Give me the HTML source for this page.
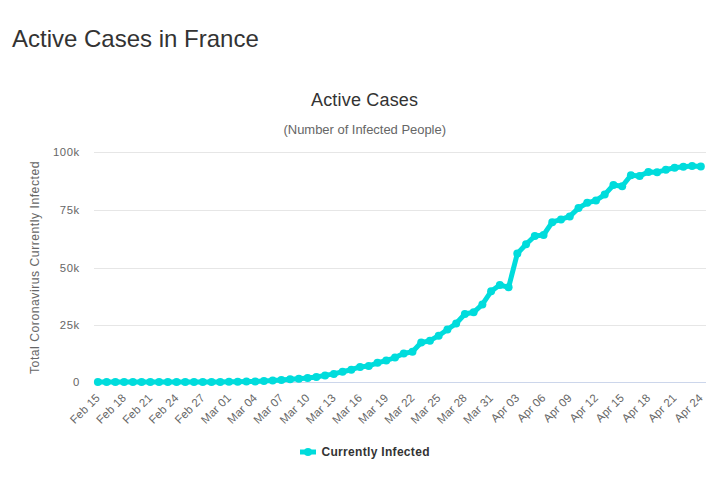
<!DOCTYPE html>
<html><head><meta charset="utf-8"><style>
html,body{margin:0;padding:0;background:#fff;width:717px;height:487px;overflow:hidden}
svg{position:absolute;left:0;top:0}
text{font-family:"Liberation Sans",sans-serif}
</style></head><body>
<svg width="717" height="487" viewBox="0 0 717 487">
<text x="12" y="47" font-size="24" fill="#333">Active Cases in France</text>
<text x="311" y="106" font-size="18" fill="#333" textLength="107" lengthAdjust="spacing">Active Cases</text>
<text x="283.5" y="134" font-size="13" fill="#666" textLength="162.5" lengthAdjust="spacing">(Number of Infected People)</text>
<path d="M94 152.5H706" stroke="#e6e6e6" stroke-width="1"/><path d="M94 210.5H706" stroke="#e6e6e6" stroke-width="1"/><path d="M94 268.5H706" stroke="#e6e6e6" stroke-width="1"/><path d="M94 325.5H706" stroke="#e6e6e6" stroke-width="1"/>
<path d="M94 382.5H706" stroke="#ccd6eb" stroke-width="1"/>
<g font-size="11.3" letter-spacing="0.6" fill="#666"><text x="79.8" y="155.9" text-anchor="end">100k</text><text x="79.8" y="213.9" text-anchor="end">75k</text><text x="79.8" y="271.9" text-anchor="end">50k</text><text x="79.8" y="328.9" text-anchor="end">25k</text><text x="79.8" y="385.9" text-anchor="end">0</text></g>
<text x="39.3" y="374" font-size="12.2" fill="#666" textLength="212.5" lengthAdjust="spacing" transform="rotate(-90 39.3 374)">Total Coronavirus Currently Infected</text>
<g font-size="11.5" letter-spacing="0.15" fill="#666"><text x="100.70" y="398.5" transform="rotate(-45 100.70 398.5)" text-anchor="end">Feb 15</text><text x="126.91" y="398.5" transform="rotate(-45 126.91 398.5)" text-anchor="end">Feb 18</text><text x="153.13" y="398.5" transform="rotate(-45 153.13 398.5)" text-anchor="end">Feb 21</text><text x="179.34" y="398.5" transform="rotate(-45 179.34 398.5)" text-anchor="end">Feb 24</text><text x="205.56" y="398.5" transform="rotate(-45 205.56 398.5)" text-anchor="end">Feb 27</text><text x="231.77" y="398.5" transform="rotate(-45 231.77 398.5)" text-anchor="end">Mar 01</text><text x="257.98" y="398.5" transform="rotate(-45 257.98 398.5)" text-anchor="end">Mar 04</text><text x="284.20" y="398.5" transform="rotate(-45 284.20 398.5)" text-anchor="end">Mar 07</text><text x="310.41" y="398.5" transform="rotate(-45 310.41 398.5)" text-anchor="end">Mar 10</text><text x="336.63" y="398.5" transform="rotate(-45 336.63 398.5)" text-anchor="end">Mar 13</text><text x="362.84" y="398.5" transform="rotate(-45 362.84 398.5)" text-anchor="end">Mar 16</text><text x="389.05" y="398.5" transform="rotate(-45 389.05 398.5)" text-anchor="end">Mar 19</text><text x="415.27" y="398.5" transform="rotate(-45 415.27 398.5)" text-anchor="end">Mar 22</text><text x="441.48" y="398.5" transform="rotate(-45 441.48 398.5)" text-anchor="end">Mar 25</text><text x="467.70" y="398.5" transform="rotate(-45 467.70 398.5)" text-anchor="end">Mar 28</text><text x="493.91" y="398.5" transform="rotate(-45 493.91 398.5)" text-anchor="end">Mar 31</text><text x="520.12" y="398.5" transform="rotate(-45 520.12 398.5)" text-anchor="end">Apr 03</text><text x="546.34" y="398.5" transform="rotate(-45 546.34 398.5)" text-anchor="end">Apr 06</text><text x="572.55" y="398.5" transform="rotate(-45 572.55 398.5)" text-anchor="end">Apr 09</text><text x="598.77" y="398.5" transform="rotate(-45 598.77 398.5)" text-anchor="end">Apr 12</text><text x="624.98" y="398.5" transform="rotate(-45 624.98 398.5)" text-anchor="end">Apr 15</text><text x="651.19" y="398.5" transform="rotate(-45 651.19 398.5)" text-anchor="end">Apr 18</text><text x="677.41" y="398.5" transform="rotate(-45 677.41 398.5)" text-anchor="end">Apr 21</text><text x="703.62" y="398.5" transform="rotate(-45 703.62 398.5)" text-anchor="end">Apr 24</text></g>
<polyline points="97.90,382.00 106.64,382.00 115.38,382.00 124.11,382.00 132.85,382.00 141.59,382.00 150.33,382.00 159.07,382.00 167.80,382.00 176.54,382.00 185.28,382.00 194.02,382.00 202.76,382.00 211.49,382.00 220.23,382.00 228.97,381.80 237.71,381.70 246.45,381.50 255.18,381.40 263.92,381.00 272.66,380.60 281.40,379.90 290.14,379.20 298.87,378.80 307.61,377.90 316.35,377.00 325.09,375.40 333.83,373.90 342.56,371.80 351.30,369.70 360.04,366.90 368.78,366.00 377.52,362.80 386.25,360.50 394.99,357.60 403.73,353.50 412.47,351.70 421.21,342.60 429.94,340.70 438.68,335.70 447.42,329.50 456.16,323.50 464.90,314.00 473.63,312.30 482.37,304.40 491.11,291.30 499.85,285.00 508.59,287.30 517.32,253.60 526.06,244.30 534.80,236.00 543.54,235.00 552.28,222.20 561.01,219.40 569.75,216.40 578.49,208.10 587.23,202.80 595.97,200.50 604.70,194.60 613.44,185.00 622.18,186.30 630.92,175.20 639.66,175.90 648.39,172.00 657.13,172.20 665.87,169.80 674.61,167.70 683.35,166.80 692.08,166.00 700.82,166.40" fill="none" stroke="#00dcdc" stroke-width="5" stroke-linejoin="round" stroke-linecap="round"/>
<g fill="#00dcdc"><circle cx="97.90" cy="382.00" r="4"/><circle cx="106.64" cy="382.00" r="4"/><circle cx="115.38" cy="382.00" r="4"/><circle cx="124.11" cy="382.00" r="4"/><circle cx="132.85" cy="382.00" r="4"/><circle cx="141.59" cy="382.00" r="4"/><circle cx="150.33" cy="382.00" r="4"/><circle cx="159.07" cy="382.00" r="4"/><circle cx="167.80" cy="382.00" r="4"/><circle cx="176.54" cy="382.00" r="4"/><circle cx="185.28" cy="382.00" r="4"/><circle cx="194.02" cy="382.00" r="4"/><circle cx="202.76" cy="382.00" r="4"/><circle cx="211.49" cy="382.00" r="4"/><circle cx="220.23" cy="382.00" r="4"/><circle cx="228.97" cy="381.80" r="4"/><circle cx="237.71" cy="381.70" r="4"/><circle cx="246.45" cy="381.50" r="4"/><circle cx="255.18" cy="381.40" r="4"/><circle cx="263.92" cy="381.00" r="4"/><circle cx="272.66" cy="380.60" r="4"/><circle cx="281.40" cy="379.90" r="4"/><circle cx="290.14" cy="379.20" r="4"/><circle cx="298.87" cy="378.80" r="4"/><circle cx="307.61" cy="377.90" r="4"/><circle cx="316.35" cy="377.00" r="4"/><circle cx="325.09" cy="375.40" r="4"/><circle cx="333.83" cy="373.90" r="4"/><circle cx="342.56" cy="371.80" r="4"/><circle cx="351.30" cy="369.70" r="4"/><circle cx="360.04" cy="366.90" r="4"/><circle cx="368.78" cy="366.00" r="4"/><circle cx="377.52" cy="362.80" r="4"/><circle cx="386.25" cy="360.50" r="4"/><circle cx="394.99" cy="357.60" r="4"/><circle cx="403.73" cy="353.50" r="4"/><circle cx="412.47" cy="351.70" r="4"/><circle cx="421.21" cy="342.60" r="4"/><circle cx="429.94" cy="340.70" r="4"/><circle cx="438.68" cy="335.70" r="4"/><circle cx="447.42" cy="329.50" r="4"/><circle cx="456.16" cy="323.50" r="4"/><circle cx="464.90" cy="314.00" r="4"/><circle cx="473.63" cy="312.30" r="4"/><circle cx="482.37" cy="304.40" r="4"/><circle cx="491.11" cy="291.30" r="4"/><circle cx="499.85" cy="285.00" r="4"/><circle cx="508.59" cy="287.30" r="4"/><circle cx="517.32" cy="253.60" r="4"/><circle cx="526.06" cy="244.30" r="4"/><circle cx="534.80" cy="236.00" r="4"/><circle cx="543.54" cy="235.00" r="4"/><circle cx="552.28" cy="222.20" r="4"/><circle cx="561.01" cy="219.40" r="4"/><circle cx="569.75" cy="216.40" r="4"/><circle cx="578.49" cy="208.10" r="4"/><circle cx="587.23" cy="202.80" r="4"/><circle cx="595.97" cy="200.50" r="4"/><circle cx="604.70" cy="194.60" r="4"/><circle cx="613.44" cy="185.00" r="4"/><circle cx="622.18" cy="186.30" r="4"/><circle cx="630.92" cy="175.20" r="4"/><circle cx="639.66" cy="175.90" r="4"/><circle cx="648.39" cy="172.00" r="4"/><circle cx="657.13" cy="172.20" r="4"/><circle cx="665.87" cy="169.80" r="4"/><circle cx="674.61" cy="167.70" r="4"/><circle cx="683.35" cy="166.80" r="4"/><circle cx="692.08" cy="166.00" r="4"/><circle cx="700.82" cy="166.40" r="4"/></g>
<path d="M300 452H316" stroke="#00dcdc" stroke-width="5"/>
<circle cx="308" cy="452" r="4" fill="#00dcdc"/>
<text x="321.5" y="456" font-size="12" font-weight="bold" fill="#333" textLength="108" lengthAdjust="spacing">Currently Infected</text>
</svg>
</body></html>
